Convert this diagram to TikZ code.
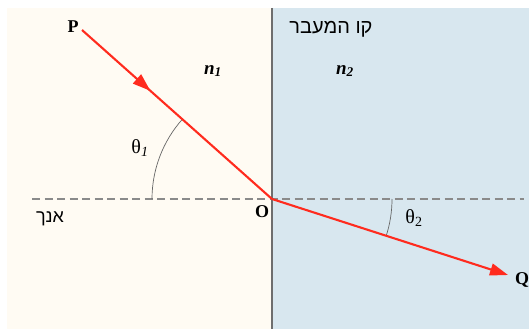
\documentclass[tikz,border=0pt]{standalone}
\usepackage{fontspec}
\setmainfont{Liberation Serif}
\newfontfamily\hebfont[Script=Hebrew]{Liberation Sans}
\TeXXeTstate=1
\usetikzlibrary{arrows.meta,decorations.markings}
\definecolor{cream}{HTML}{FFFBF3}
\definecolor{lightblue}{HTML}{D8E7EF}
\definecolor{rayred}{HTML}{FF2B1E}
\definecolor{wallgray}{HTML}{6E6E6E}
\definecolor{dashgray}{HTML}{8A8A8A}
\tikzset{
  ray/.style={draw=rayred, line width=2.1pt},
  tiph/.style={-{Triangle[length=18pt,width=12pt]}},
  anglearc/.style={draw=black!60, line width=0.7pt},
  normalline/.style={draw=dashgray, line width=1.4pt, dash pattern=on 8pt off 4.5pt},
  ptlabel/.style={font=\bfseries\fontsize{18}{20}\selectfont, inner sep=0pt},
  thlabel/.style={font=\fontsize{20}{22}\selectfont, inner sep=0pt},
  nlabel/.style={font=\bfseries\itshape\fontsize{19}{21}\selectfont, inner sep=0pt},
  heblabel/.style={font=\hebfont\fontsize{20}{22}\selectfont, inner sep=0pt}
}
\begin{document}
\begin{tikzpicture}[x=1pt,y=1pt]
\useasboundingbox (0,0) rectangle (529,-329);
% panels
\fill[cream] (7,-8) rectangle (272,-329);
\fill[lightblue] (272,-8) rectangle (529,-329);
% coordinates
\coordinate (O) at (272,-199);
\coordinate (P) at (82,-30);
\coordinate (Q) at (508,-275);
\coordinate (NL) at (32,-199);
\coordinate (NR) at (524,-199);
\coordinate (WT) at (272,-8);
\coordinate (WB) at (272,-329);
% normal line
\draw[normalline] (NL) -- (NR);
% boundary
\draw[draw=wallgray, line width=1.8pt] (WT) -- (WB);
% angle arcs
\draw[anglearc] (O) ++(138.35:120) arc[start angle=138.35, end angle=180, radius=120];
\draw[anglearc] (O) ++(-17.85:120) arc[start angle=-17.85, end angle=0, radius=120];
% rays
\draw[ray, postaction={decorate}, decoration={markings, mark=at position 0.36 with {\arrow{Triangle[length=18pt,width=12pt]}}}] (P) -- (O);
\draw[ray, tiph] (O) -- (Q);
% labels
\node[ptlabel] (Pl) at (73,-27) {P};
\node[ptlabel] (Ql) at (522,-280) {Q};
\node[ptlabel] (Ol) at (262,-212) {O};
\node[thlabel] (th1) at (140,-148) {θ\textsubscript{\textit{1}}};
\node[thlabel] (th2) at (414,-218) {θ\textsubscript{2}};
\node[nlabel] (n1) at (213,-71) {n\textsubscript{1}};
\node[nlabel] (n2) at (345,-71) {n\textsubscript{2}};
\node[heblabel] (boundary) at (331,-29) {\beginR קו המעבר\endR};
\node[heblabel, font=\hebfont\fontsize{18}{20}\selectfont] (normal) at (50,-219) {\beginR אנך\endR};
\end{tikzpicture}
\end{document}
